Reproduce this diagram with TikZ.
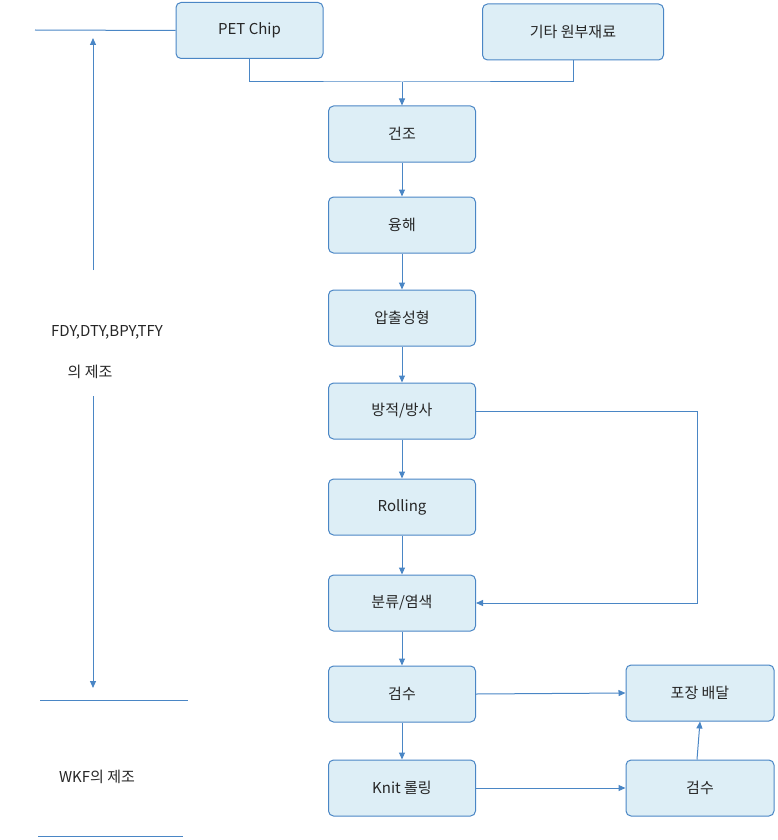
\documentclass[tikz,border=0pt]{standalone}
\usepackage{fontspec}
\setmainfont{Noto Sans CJK KR}
\usetikzlibrary{arrows.meta}
\definecolor{bfill}{HTML}{DDEEF6}
\definecolor{bline}{HTML}{4A86C5}
\begin{document}
\begin{tikzpicture}[x=1pt,y=-1pt,
 box/.style={draw=bline,fill=bfill,rounded corners=5pt,line width=1pt,minimum width=147pt,minimum height=56pt,inner sep=0pt,font=\fontsize{15}{18}\selectfont,text=black!85},
 ln/.style={draw=bline,line width=1pt},
 ar/.style={ln,-{Triangle[length=7pt,width=6pt]}}]
\useasboundingbox (0,0) rectangle (777,840);
\node[box] (pet) at (249.5,30.5) {PET Chip};
\node[box,minimum width=181pt] (etc) at (573,32) {기타 원부재료};
\node[box] (a) at (402,134) {건조};
\node[box] (b) at (402,225) {융해};
\node[box] (c) at (402,318) {압출성형};
\node[box] (d) at (402,411) {방적/방사};
\node[box] (e) at (402,507) {Rolling};
\node[box] (f) at (402,603) {분류/염색};
\node[box] (g) at (402,694) {검수};
\node[box] (h) at (402,788) {Knit 롤링};
\node[box,minimum width=148pt] (p) at (700,693) {포장 배달};
\node[box,minimum width=148pt] (q) at (700,788) {검수};
\coordinate (j) at (402,82);
\draw[ln] (pet.south) |- (j) -| (etc.south);
\draw[ar] (j) -- (a);
\draw[ar] (a) -- (b);
\draw[ar] (b) -- (c);
\draw[ar] (c) -- (d);
\draw[ar] (d) -- (e);
\draw[ar] (e) -- (f);
\draw[ar] (f) -- (g);
\draw[ar] (g) -- (h);
\coordinate (r) at (697,411);
\draw[ar] (d.east) -- (r) |- (f.east);
\draw[ar] (g.east) -- (p.west);
\draw[ar] (h.east) -- (q.west);
\draw[ar] (q.north) ++(-3,0) -- (p.south);
\coordinate (l1) at (35,30);
\draw[ln] (l1) -- (pet.west);
\node[font=\fontsize{15}{18}\selectfont,text=black!85] (t1) at (107,332) {FDY,DTY,BPY,TFY};
\node[font=\fontsize{15}{18}\selectfont,text=black!85] (t2) at (90,372) {의 제조};
\node[font=\fontsize{15}{18}\selectfont,text=black!85] (t3) at (97,777) {WKF의 제조};
\coordinate (v1) at (93,38); \coordinate (v2) at (93,688);
\coordinate (v1e) at (93,270); \coordinate (v2s) at (93,396);
\draw[ar] (v1e) -- (v1);
\draw[ar] (v2s) -- (v2);
\coordinate (m1) at (40,700); \coordinate (m2) at (188,700);
\draw[ln] (m1) -- (m2);
\coordinate (n1) at (38,836); \coordinate (n2) at (183,836);
\draw[ln] (n1) -- (n2);
\end{tikzpicture}
\end{document}
